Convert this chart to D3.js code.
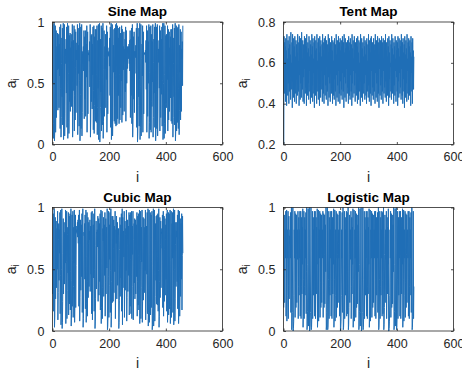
<!DOCTYPE html>
<html><head><meta charset="utf-8">
<script src="https://cdn.jsdelivr.net/npm/d3@7"></script>
<style>
html,body{margin:0;padding:0;background:#fff;}
svg{display:block;font-family:"Liberation Sans",Arial,Helvetica,sans-serif;}
</style></head><body>
<svg id="chart" width="462" height="373"></svg>
<script>
// ---- data ----
const titles = ["Sine Map","Tent Map","Cubic Map","Logistic Map"];
const xTicks = [0,200,400,600];
const yTicksUnit = [0,0.5,1];
const yTicksTent = [0.2,0.4,0.6,0.8];
const xLabel = "i";
const yLabelMain = "a";
const yLabelSub = "i";

const sineMap = [
.5,.98,.05,.17,.55,.99,.03,.12,.45,.97,.1,.38,.93,.22,.71,.8,.61,.91,.28,.8,
.62,.9,.3,.82,.56,.96,.13,.46,.98,.06,.22,.66,.87,.39,.95,.16,.54,.99,.04,.14,
.48,.98,.07,.25,.72,.78,.66,.86,.42,.96,.14,.5,.99,.05,.18,.58,.97,.09,.33,.89,
.35,.91,.27,.79,.63,.9,.31,.84,.51,.98,.06,.23,.68,.85,.44,.97,.11,.4,.94,.2,
.63,.92,.26,.77,.69,.83,.48,.98,.08,.29,.81,.58,.95,.15,.52,.99,.03,.11,.41,.96,
.13,.47,.98,.07,.26,.74,.76,.71,.8,.6,.93,.21,.65,.88,.37,.93,.23,.7,.82,.55,
.97,.1,.37,.92,.25,.75,.74,.73,.77,.68,.84,.47,.98,.06,.21,.64,.89,.35,.9,.29,
.82,.57,.96,.12,.44,.97,.09,.32,.88,.38,.94,.19,.6,.94,.18,.57,.97,.08,.3,.85,
.46,.98,.04,.15,.52,.99,.02,.08,.3,.86,.43,.97,.11,.39,.95,.16,.55,.99,.05,.19,
.61,.93,.23,.71,.8,.62,.9,.3,.83,.53,.97,.1,.36,.92,.25,.76,.73,.75,.72,.79,
.64,.87,.4,.96,.14,.49,.99,.04,.16,.53,.98,.07,.24,.7,.81,.59,.94,.19,.59,.95,
.17,.56,.98,.15,.51,.99,.16,.55,.97,.21,.66,.87,.4,.95,.17,.57,.96,.2,.63,.91,
.3,.84,.52,.97,.18,.6,.94,.24,.72,.8,.61,.92,.27,.78,.68,.86,.43,.96,.19,.61,
.93,.5,.72,.8,.62,.78,.75,.8,.7,.82,.66,.85,.6,.93,.22,.68,.86,.4,.95,.17,
.55,.98,.06,.21,.65,.88,.37,.92,.26,.76,.73,.76,.71,.81,.58,.95,.14,.5,.99,.02,
.09,.32,.88,.39,.95,.15,.53,.99,.04,.14,.47,.98,.07,.24,.7,.82,.56,.97,.1,.37,
.92,.25,.75,.74,.74,.75,.73,.77,.67,.85,.45,.97,.1,.37,.93,.23,.69,.84,.5,.98,
.05,.18,.59,.96,.12,.42,.97,.1,.35,.9,.31,.84,.51,.98,.06,.22,.67,.86,.42,.96,
.14,.49,.99,.03,.11,.41,.96,.13,.46,.98,.07,.25,.73,.78,.67,.85,.46,.97,.11,.38,
.93,.22,.68,.86,.41,.96,.15,.52,.99,.04,.15,.5,.99,.05,.17,.57,.97,.09,.33,.89,
.34,.9,.3,.83,.53,.97,.11,.39,.94,.2,.62,.92,.27,.79,.65,.88,.38,.94,.19,.6,
.94,.17,.55,.98,.06,.22,.66,.87,.39,.95,.16,.53,.99,.03,.12,.43,.97,.11,.4,.95,
.18,.58,.96,.13,.46,.98,.08,.28,.81,.59,.94,.2,.62,.92,.27,.78,.7,.84,.48,.97];

const tentMap = [
.2,.73,.45,.7,.52,.68,.41,.72,.48,.66,.39,.74,.55,.62,.44,.71,.5,.67,.4,.73,
.46,.69,.53,.64,.42,.75,.57,.6,.47,.7,.38,.74,.51,.66,.43,.72,.49,.68,.41,.73,
.56,.63,.45,.71,.4,.69,.52,.65,.44,.74,.58,.61,.46,.7,.39,.73,.54,.64,.42,.72,
.5,.67,.43,.75,.55,.62,.47,.71,.41,.69,.53,.66,.4,.73,.57,.6,.45,.72,.48,.68,
.39,.74,.52,.65,.44,.7,.5,.67,.42,.73,.56,.63,.46,.71,.4,.69,.54,.64,.43,.74,
.49,.68,.41,.72,.55,.62,.45,.7,.38,.73,.51,.66,.44,.71,.48,.67,.4,.74,.57,.61,
.46,.7,.42,.72,.53,.65,.39,.73,.5,.68,.43,.71,.56,.63,.47,.69,.41,.74,.52,.66,
.45,.7,.4,.72,.54,.64,.44,.73,.49,.67,.42,.71,.58,.6,.46,.69,.39,.74,.53,.65,
.43,.72,.5,.68,.41,.7,.55,.63,.45,.73,.48,.66,.4,.71,.57,.61,.44,.7,.42,.72,
.52,.65,.46,.69,.39,.74,.54,.64,.43,.71,.49,.67,.41,.73,.56,.62,.45,.7,.4,.72,
.51,.66,.44,.71,.47,.68,.42,.73,.55,.63,.46,.7,.38,.74,.53,.65,.43,.72,.5,.67,
.41,.7,.57,.61,.45,.71,.48,.68,.4,.73,.52,.66,.44,.7,.42,.72,.54,.64,.46,.69,
.39,.74,.5,.67,.43,.71,.56,.62,.45,.73,.49,.66,.41,.7,.55,.63,.44,.72,.47,.68,
.4,.73,.53,.65,.42,.71,.58,.6,.46,.7,.39,.74,.51,.66,.43,.72,.48,.67,.41,.7,
.55,.63,.45,.73,.5,.68,.42,.71,.54,.64,.44,.7,.4,.72,.57,.61,.46,.69,.43,.74,
.49,.67,.41,.71,.53,.65,.45,.72,.39,.73,.56,.62,.44,.7,.48,.68,.42,.72,.52,.66,
.46,.69,.4,.74,.55,.63,.43,.71,.5,.67,.41,.73,.54,.64,.45,.7,.38,.72,.57,.61,
.44,.71,.49,.68,.42,.73,.53,.65,.46,.7,.4,.72,.56,.62,.45,.71,.48,.67,.43,.74,
.51,.66,.41,.7,.55,.63,.44,.72,.47,.68,.39,.73,.52,.65,.43,.71,.58,.6,.46,.69,
.42,.74,.5,.67,.45,.72,.54,.64,.4,.7,.49,.68,.44,.73,.56,.62,.41,.71,.53,.66,
.46,.7,.39,.73,.51,.67,.43,.72,.55,.63,.45,.71,.48,.68,.42,.74,.57,.61,.44,.7,
.4,.72,.52,.65,.46,.69,.38,.73,.54,.64,.43,.71,.5,.67,.41,.74,.56,.62,.45,.7,
.42,.72,.49,.68,.44,.71,.53,.65,.39,.73,.55,.63,.46,.7,.4,.72,.5,.66,.47,.63];

const cubicMap = [
.3,.65,.95,.16,.52,.99,.03,.11,.38,.92,.26,.7,.89,.35,.78,.83,.5,.97,.09,.31,
.74,.87,.41,.82,.63,.96,.14,.45,.98,.05,.17,.5,.99,.02,.07,.24,.63,.91,.3,.72,
.88,.38,.79,.8,.55,.98,.06,.2,.56,.97,.1,.33,.78,.84,.47,.96,.13,.42,.93,.22,
.61,.95,.17,.48,.99,.04,.13,.41,.94,.2,.57,.97,.11,.36,.84,.55,.98,.07,.23,.6,
.94,.19,.53,.82,.8,.85,.79,.88,.76,.9,.71,.94,.2,.56,.98,.08,.27,.68,.9,.33,
.76,.86,.44,.95,.15,.47,.99,.03,.1,.34,.8,.77,.87,.42,.94,.18,.52,.98,.07,.22,
.6,.96,.12,.4,.92,.27,.71,.88,.36,.81,.74,.9,.32,.77,.85,.46,.96,.14,.44,.97,
.09,.3,.76,.86,.43,.95,.16,.5,.99,.02,.08,.26,.69,.89,.34,.8,.79,.82,.68,.93,
.24,.66,.91,.29,.73,.87,.4,.95,.17,.51,.98,.06,.19,.55,.97,.1,.35,.83,.73,.92,
.28,.72,.86,.45,.96,.12,.39,.91,.3,.75,.84,.51,.99,.01,.04,.14,.44,.97,.11,.37,
.86,.58,.96,.15,.49,.99,.03,.12,.4,.93,.23,.64,.93,.24,.67,.9,.31,.77,.85,.48,
.97,.1,.34,.82,.71,.93,.26,.7,.88,.37,.8,.78,.83,.02,.07,.25,.66,.92,.28,.73,
.86,.43,.95,.16,.5,.99,.05,.92,.35,.79,.81,.6,.97,.11,.38,.89,.33,.78,.83,.49,
.98,.08,.27,.69,.9,.32,.75,.85,.45,.96,.13,.43,.94,.2,.58,.96,.14,.46,.97,.1,
.36,.85,.62,.97,.09,.29,.74,.87,.39,.91,.26,.69,.9,.3,.73,.86,.44,.96,.12,.4,
.93,.21,.61,.95,.17,.5,.98,.06,.2,.57,.97,.1,.35,.84,.56,.98,.07,.24,.64,.92,
.25,.68,.91,.31,.76,.84,.49,.98,.09,.3,.77,.85,.46,.96,.14,.45,.99,.04,.15,.47,
.98,.07,.23,.62,.96,.13,.43,.94,.19,.56,.97,.01,.05,.18,.53,.99,.04,.14,.46,.98,
.08,.28,.73,.87,.41,.93,.22,.63,.94,.21,.6,.95,.16,.49,.99,.03,.12,.4,.92,.27,
.7,.89,.35,.8,.79,.83,.67,.94,.19,.55,.97,.12,.41,.93,.24,.66,.91,.29,.74,.86,
.42,.95,.16,.51,.98,.07,.22,.6,.96,.13,.44,.95,.18,.54,.98,.06,.2,.57,.97,.11,
.37,.87,.59,.96,.15,.48,.99,.05,.16,.5,.98,.08,.26,.7,.88,.36,.81,.76,.88,.4,
.94,.18,.53,.98,.06,.21,.58,.97,.12,.39,.91,.28,.72,.87,.42,.95,.17,.61,.93,.63];

const logisticMap = [
.19,.62,.94,.23,.71,.82,.59,.97,.12,.42,.98,.08,.29,.82,.59,.97,.1,.37,.93,.26,
.77,.71,.82,.59,.96,.15,.51,1,.01,.04,.15,.51,1,0,.02,.08,.29,.82,.59,.97,
.11,.39,.95,.19,.62,.94,.23,.71,.82,.58,.97,.1,.36,.92,.29,.82,.59,.97,.12,.42,
.97,.1,.36,.92,.3,.84,.54,.99,.03,.12,.42,.97,.1,.36,.92,.29,.82,.59,.96,.14,
.48,1,.01,.04,.16,.54,.99,.04,.15,.51,1,0,.01,.04,.15,.51,1,.01,.03,.12,
.42,.97,.1,.36,.92,.29,.82,.59,.97,.12,.42,.97,.1,.36,.92,.3,.84,.54,.99,.03,
.12,.42,.98,.08,.29,.82,.59,.97,.11,.39,.95,.19,.62,.94,.23,.71,.82,.59,.97,.11,
.39,.95,.19,.62,.94,.22,.69,.86,.48,1,.01,.04,.15,.51,1,.01,.03,.12,.42,.97,
.1,.36,.92,.29,.82,.59,.97,.12,.42,.97,.1,.36,.92,.3,.84,.54,.99,.03,.12,.42,
.98,.08,.29,.82,.59,.97,.11,.39,.95,.19,.62,.94,.23,.71,.82,.59,.97,.12,.42,.97,
0,.02,.08,.29,.82,.59,.96,.15,.51,1,.01,.03,.12,.42,.97,.1,.36,.92,.29,.82,
.59,.97,.12,.41,.96,.14,.48,1,.01,.05,.19,.62,.94,.23,.71,.82,.58,.97,.1,.36,
.92,.3,.84,.54,.99,.03,.12,.42,.98,.08,.29,.82,.59,.97,.11,.39,.95,.19,.62,.94,
.22,.69,.86,.48,1,.01,.04,.16,.54,.99,.04,.15,.51,1,0,.01,.04,.15,.51,1,
.01,.03,.12,.42,.97,.1,.36,.92,.29,.82,.59,.97,.12,.42,.97,.1,.36,.92,.3,.84,
.54,.99,.03,.12,.42,.98,.08,.29,.82,.59,.97,.11,.39,.95,.19,.62,.94,.23,.71,.82,
.59,.97,.12,.42,.97,.1,.36,.92,.29,.82,.59,.96,.15,.51,1,.01,.03,.12,.42,.97,
.1,.36,.92,.29,.82,.59,.97,.12,.41,.96,.14,.48,1,.01,.05,.19,.62,.94,.23,.71,
.82,.58,.97,.1,.36,.92,.3,.84,.54,.99,0,0,.02,.08,.29,.82,.59,.97,.11,.39,
.95,.19,.62,.94,.22,.69,.86,.48,1,.01,.04,.16,.54,.99,.04,.15,.51,1,.01,.03,
.12,.42,.97,.1,.36,.92,.29,.82,.59,.97,.12,.42,.97,.1,.36,.92,.3,.84,.54,.99,
.03,.12,.42,.98,.08,.29,.82,.59,.97,.11,.39,.95,.19,.62,.94,.23,.71,.82,.59,.97,
.12,.42,.97,.1,.36,.92,.29,.82,.59,.96,.15,.51,1,.01,.03,.12,.42,.97,.1,.36];

// ---- layout ----
const series = [sineMap, tentMap, cubicMap, logisticMap];
const yDomains = [[0,1],[0.2,0.8],[0,1],[0,1]];
const yTickSets = [yTicksUnit, yTicksTent, yTicksUnit, yTicksUnit];
const cols = [[52.5,222.5],[283.5,453.5]];
const rows = [[22,144.5],[207.5,331]];

const svg = d3.select("#chart");
const axisColor = "#262626";
const fmt = d => String(d);

series.forEach((data, k) => {
  const [x0,x1] = cols[k%2];
  const [y0,y1] = rows[Math.floor(k/2)];
  const x = d3.scaleLinear().domain([0,600]).range([x0,x1]);
  const y = d3.scaleLinear().domain(yDomains[k]).range([y1,y0]);
  const g = svg.append("g");

  // data line
  g.append("path")
    .datum(data)
    .attr("fill","none")
    .attr("stroke","#1f6eb6")
    .attr("stroke-width",1)
    .attr("stroke-linejoin","round")
    .attr("d", d3.line().x((d,i)=>x(i+1)).y(d=>y(d)));

  // axes (ticks inward)
  const tickLen = 2.5;
  const styleAxis = (sel, labels) => {
    sel.select(".domain").remove();
    sel.selectAll(".tick line").attr("stroke",axisColor).attr("stroke-width",0.8);
    sel.selectAll(".tick text").attr("fill",axisColor)
      .style("font-size","12.5px")
      .style("font-family",'"Liberation Sans",Arial,Helvetica,sans-serif');
    if(!labels) sel.selectAll(".tick text").remove();
  };
  g.append("g").attr("transform",`translate(0,${y1})`)
    .call(d3.axisBottom(x).tickValues(xTicks).tickFormat(fmt).tickSizeInner(-tickLen).tickSizeOuter(0).tickPadding(8))
    .call(s=>styleAxis(s,true));
  g.append("g").attr("transform",`translate(0,${y0})`)
    .call(d3.axisTop(x).tickValues(xTicks).tickSizeInner(-tickLen).tickSizeOuter(0))
    .call(s=>styleAxis(s,false));
  g.append("g").attr("transform",`translate(${x0},0)`)
    .call(d3.axisLeft(y).tickValues(yTickSets[k]).tickFormat(fmt).tickSizeInner(-tickLen).tickSizeOuter(0).tickPadding(8))
    .call(s=>styleAxis(s,true));
  g.append("g").attr("transform",`translate(${x1},0)`)
    .call(d3.axisRight(y).tickValues(yTickSets[k]).tickSizeInner(-tickLen).tickSizeOuter(0))
    .call(s=>styleAxis(s,false));

  // box
  g.append("rect")
    .attr("x",x0).attr("y",y0).attr("width",x1-x0).attr("height",y1-y0)
    .attr("fill","none").attr("stroke",axisColor).attr("stroke-width",0.8);

  // title
  g.append("text")
    .attr("x",(x0+x1)/2).attr("y",y0-6)
    .attr("text-anchor","middle")
    .attr("fill","#000")
    .style("font-size","13.5px").style("font-weight","bold")
    .text(titles[k]);

  // x label
  g.append("text")
    .attr("x",(x0+x1)/2).attr("y",y1+37)
    .attr("text-anchor","middle")
    .attr("fill",axisColor)
    .style("font-size","14px")
    .text(xLabel);

  // y label
  const yl = g.append("text")
    .attr("transform",`translate(${x0-37},${(y0+y1)/2}) rotate(-90)`)
    .attr("text-anchor","middle")
    .attr("fill",axisColor)
    .style("font-size","14px");
  yl.append("tspan").text(yLabelMain);
  yl.append("tspan").attr("dy",3).style("font-size","10px").text(yLabelSub);
});
</script>
</body></html>
